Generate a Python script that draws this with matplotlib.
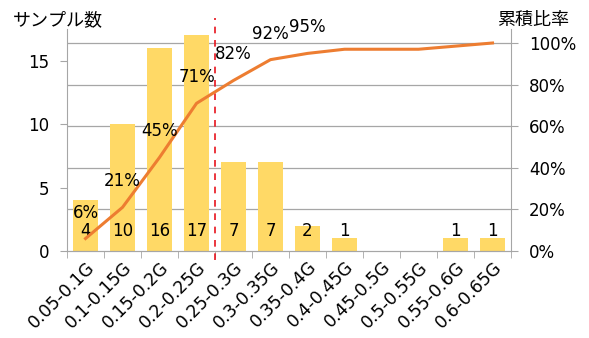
import matplotlib
matplotlib.use("Agg")
import matplotlib.pyplot as plt
import numpy as np

plt.rcParams['font.family'] = ['DejaVu Sans', 'Noto Sans CJK JP']

categories = ['0.05-0.1G', '0.1-0.15G', '0.15-0.2G', '0.2-0.25G', '0.25-0.3G', '0.3-0.35G',
              '0.35-0.4G', '0.4-0.45G', '0.45-0.5G', '0.5-0.55G', '0.55-0.6G', '0.6-0.65G']
counts = [4, 10, 16, 17, 7, 7, 2, 1, 0, 0, 1, 1]
cumulative = [0.06, 0.21, 0.45, 0.71, 0.82, 0.92, 0.95, 0.97, 0.97, 0.97, 0.985, 1.0]
cum_labels = ['6%', '21%', '45%', '71%', '82%', '92%', '95%']
left_ticks = [0, 5, 10, 15]
right_ticks = [0, 0.2, 0.4, 0.6, 0.8, 1.0]
right_tick_labels = ['0%', '20%', '40%', '60%', '80%', '100%']
threshold_pos = 3.5

bar_color = '#FFD966'
line_color = '#ED7D31'
grid_color = '#A6A6A6'
fs = 12
jfs = 13

fig = plt.figure(figsize=(5.89, 3.38), dpi=100)
ax = fig.add_axes([0.1138, 0.2574, 0.8676 - 0.1138, 0.914 - 0.2574])
ax2 = ax.twinx()
ax.set_zorder(ax2.get_zorder() - 1)
ax.patch.set_visible(True)
ax2.patch.set_visible(False)

x = np.arange(len(categories))
ax.bar(x, counts, width=0.66, color=bar_color, zorder=2)
ax.set_xlim(-0.5, len(categories) - 0.5)
ax.set_ylim(0, 17.5)
ax.set_yticks(left_ticks)

for xi, c in zip(x, counts):
    if c > 0:
        ax.text(xi, 1.55, str(c), ha='center', va='center', fontsize=fs, color='black', zorder=5)

ax2.set_ylim(0, 1.067)
ax2.set_yticks(right_ticks)
ax2.set_yticklabels(right_tick_labels)
for t in right_ticks[1:]:
    ax.axhline(t * 17.5 / 1.067, color=grid_color, lw=0.9, zorder=1)

ax2.plot(x, cumulative, color=line_color, lw=2.2, zorder=3)
for xi, (v, lab) in enumerate(zip(cumulative, cum_labels)):
    ax2.text(xi, v + 0.125, lab, ha='center', va='center', fontsize=fs, color='black')

ax.set_xticks(x)
ax.set_xticklabels(categories, rotation=45, ha='right', rotation_mode='anchor', fontsize=12.5)
ax.set_xticks(np.arange(-0.5, len(categories)), minor=True)
ax.tick_params(axis='x', which='major', length=0, pad=5)
ax.tick_params(axis='x', which='minor', length=5, color=grid_color)
ax.tick_params(axis='y', length=5, color=grid_color, labelsize=fs, pad=8)
ax2.tick_params(axis='y', length=5, color=grid_color, labelsize=fs, pad=8)

for a in (ax, ax2):
    a.spines['top'].set_visible(False)
    for s in ('left', 'right', 'bottom'):
        a.spines[s].set_color(grid_color)
ax2.spines['left'].set_visible(False)
ax.spines['right'].set_visible(False)

xf = (threshold_pos + 0.5) / len(categories)
ax.plot([xf, xf], [-0.04, 1.05], transform=ax.transAxes, color='#E8141E', lw=1.2,
        ls=(0, (4, 4)), clip_on=False, zorder=6)

fig.text(13 / 589, 1 - 20 / 338, 'サンプル数', ha='left', va='center', fontsize=jfs,
         family=['Noto Sans CJK JP'])
fig.text(533 / 589, 1 - 20 / 338, '累積比率', ha='center', va='center', fontsize=jfs,
         family=['Noto Sans CJK JP'])

fig.savefig('out.png', dpi=100)
